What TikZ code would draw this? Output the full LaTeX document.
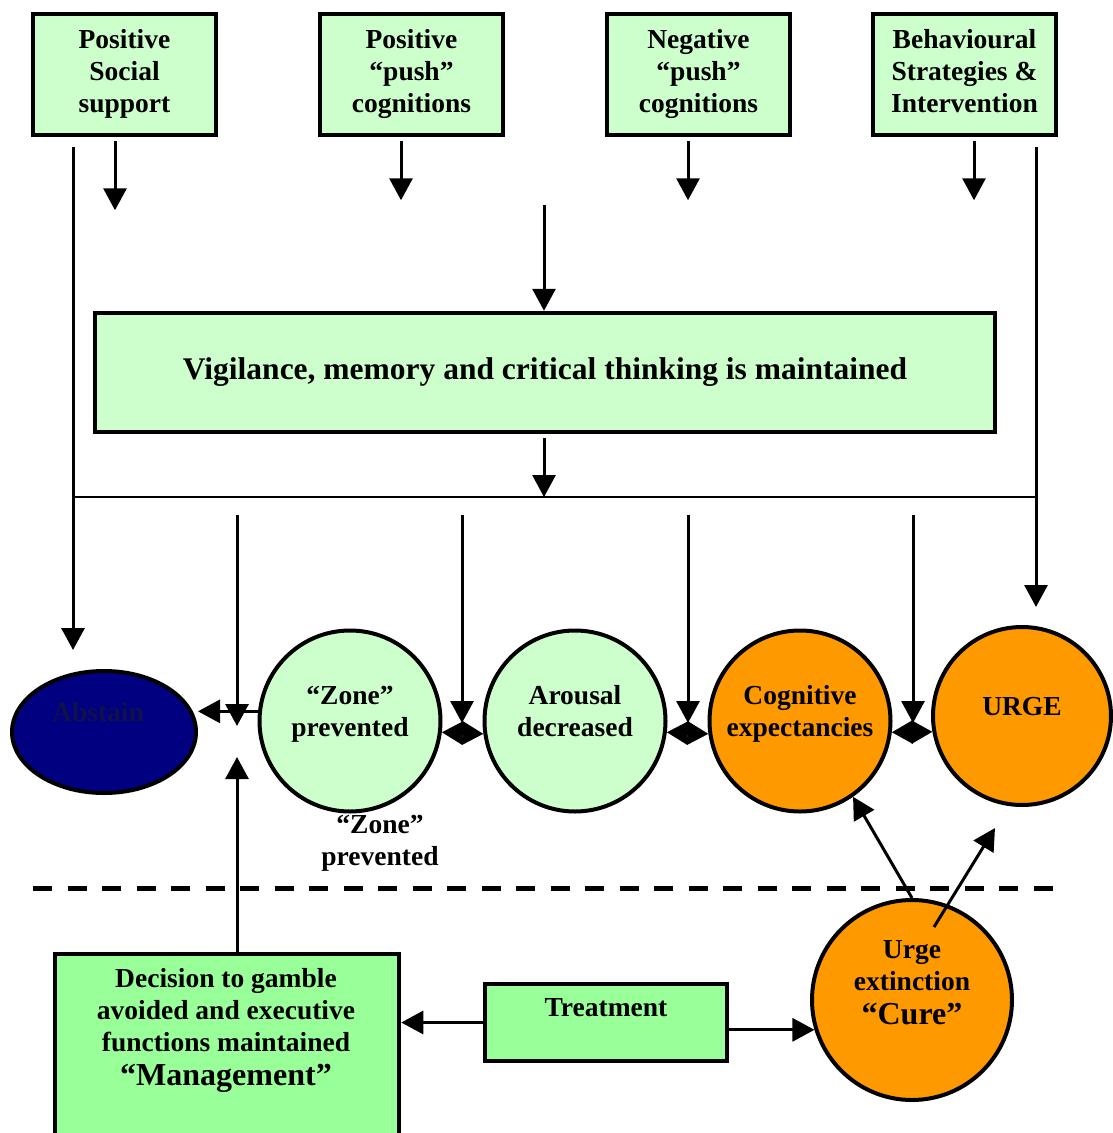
\documentclass[tikz,border=0pt]{standalone}
\usepackage{fontspec}
\setmainfont{Liberation Serif}
\usetikzlibrary{arrows.meta,calc,shapes.geometric}

\definecolor{paleGreen}{HTML}{CCFFCC}
\definecolor{midGreen}{HTML}{99FF99}
\definecolor{amber}{HTML}{FF9900}
\definecolor{deepNavy}{HTML}{000080}
\definecolor{navyText}{HTML}{10104A}

% larger type for the two outcome words
\newcommand{\largeword}{\fontsize{32}{36}\selectfont}

\begin{document}
\begin{tikzpicture}[x=1pt,y=-1pt,
  txt/.style={font=\fontsize{27.5}{32}\selectfont\bfseries, align=center, inner sep=0pt},
  topbox/.style={draw, line width=4.5pt, fill=paleGreen, minimum width=183pt, minimum height=121pt, inner sep=0pt, txt},
  bubble/.style={circle, draw, line width=4pt, inner sep=0pt},
  flatbox/.style={draw, line width=4.5pt, fill=midGreen, inner sep=0pt},
  arr/.style={line width=3pt, -{Triangle[length=22pt,width=23pt]}},
  link/.style={line width=2.8pt},
  dbl/.style={line width=3pt, {Triangle[length=21pt,width=23pt]}-{Triangle[length=21pt,width=23pt]}},
]
\path[use as bounding box, fill=white] (0,0) rectangle (1112,1133);

% influences along the top
\node[topbox] (b1) at (124.5,74.5) {\strut Positive\\Social\\support\strut};
\node[topbox] (b2) at (411.5,74.5) {\strut Positive\\“push”\\cognitions\strut};
\node[topbox] (b3) at (698.5,74.5) {\strut Negative\\“push”\\cognitions\strut};
\node[topbox] (b4) at (964.5,74.5) {\strut Behavioural\\Strategies \&\\Intervention\strut};

% central process box
\node[draw, line width=4.5pt, fill=paleGreen, minimum width=900pt, minimum height=119pt,
      inner sep=0pt, font=\fontsize{31.5}{36}\selectfont\bfseries] (big) at (545,372.5)
      {Vigilance, memory and critical thinking is maintained};

% chain of states
\node[ellipse, draw, line width=4pt, fill=deepNavy, minimum width=184pt, minimum height=122pt, inner sep=0pt] (abstain) at (104,732) {};
\node[txt, text=navyText] (abstainText) at (98,712) {Abstain};

\node[bubble, fill=paleGreen, minimum size=181pt] (zone) at (350,721) {};
\node[txt] (zoneText) at (350,714.5) {“Zone”\\prevented};
\node[bubble, fill=paleGreen, minimum size=181pt] (arousal) at (575,721) {};
\node[txt] (arousalText) at (575,711) {Arousal\\decreased};
\node[bubble, fill=amber, minimum size=181pt] (cog) at (800,721) {};
\node[txt] (cogText) at (800,714) {Cognitive\\expectancies};
\node[bubble, fill=amber, minimum size=178pt] (urge) at (1022,716) {};
\node[txt] (urgeText) at (1022,707) {URGE};

\node[txt] (zoneNote) at (380,843.5) {“Zone”\\prevented};

% lower section
\node[flatbox, minimum width=344pt, minimum height=194pt] (mgmt) at (227,1051) {};
\node[txt] (mgmtText) at (226,1030) {Decision to gamble\\avoided and executive\\functions maintained\\[2pt]{\largeword “Management”}};
\node[flatbox, minimum width=242pt, minimum height=77pt] (treat) at (606,1022.5) {};
\node[txt] (treatText) at (606,1008) {Treatment};
\node[bubble, fill=amber, minimum size=200pt] (cure) at (912,1000) {};
\node[txt] (cureText) at (912,983) {Urge\\extinction\\[2pt]{\largeword “Cure”}};

% free ends and junctions
\coordinate (busL) at (73,497);
\coordinate (busR) at (1036,497);
\coordinate (midTop) at (544,205);
\coordinate (abstainIn) at (73,650);
\coordinate (urgeIn) at (1036,607);
\coordinate (drop1) at (237,515);
\coordinate (drop2) at (462,515);
\coordinate (drop3) at (688,515);
\coordinate (drop4) at (913,515);
\coordinate (upTip) at (237,757);
\coordinate (dashL) at (33,888);
\coordinate (dashR) at (1053,888);

% short arrows under the top boxes
\draw[arr] ($(b1.south)+(-9.5,4)$) -- ++(0,69);
\draw[arr] ($(b2.south)+(-10.5,4)$) -- ++(0,59);
\draw[arr] ($(b3.south)+(-10.5,4)$) -- ++(0,59);
\draw[arr] ($(b4.south)+(9.5,4)$) -- ++(0,59);

% long side lines and the bus
\draw[arr] ($(b1.south -| busL)+(0,10)$) -- (abstainIn);
\draw[arr] ($(b4.south -| busR)+(0,10)$) -- (urgeIn);
\draw[link] (busL) -- (busR);
\draw[arr] (midTop) -- (big.north -| midTop);
\draw[arr] ($(big.south -| midTop)+(0,4)$) -- (busL -| midTop);

% drops onto the chain
\draw[arr] (drop1) -- (237,726);
\draw[arr] (drop2) -- (462,723);
\draw[arr] (drop3) -- (688,723);
\draw[arr] (drop4) -- (913,723);

% links along the chain
\draw[arr] (zone.174) -- (zone.174 -| abstain.east);
\draw[dbl] (zone.-7.5) -- (arousal.-172.5);
\draw[dbl] (arousal.-7.5) -- (cog.-172.5);
\draw[dbl] (cog.-7.5) -- (urge.-170);

% divider
\draw[line width=5pt, dash pattern=on 19pt off 15.5pt] (dashL) -- (dashR);

% lower connectors
\draw[arr] (mgmt.north -| drop1) -- (upTip);
\draw[arr] (treat.west) -- (treat.west -| mgmt.east);
\draw[arr] (cure.197 -| treat.east) -- (cure.197);
\draw[arr] (cure.north) -- (cog.-55);
\draw[arr] ($(cure.center)+(22,-73)$) -- ++(61,-99);
\end{tikzpicture}
\end{document}
